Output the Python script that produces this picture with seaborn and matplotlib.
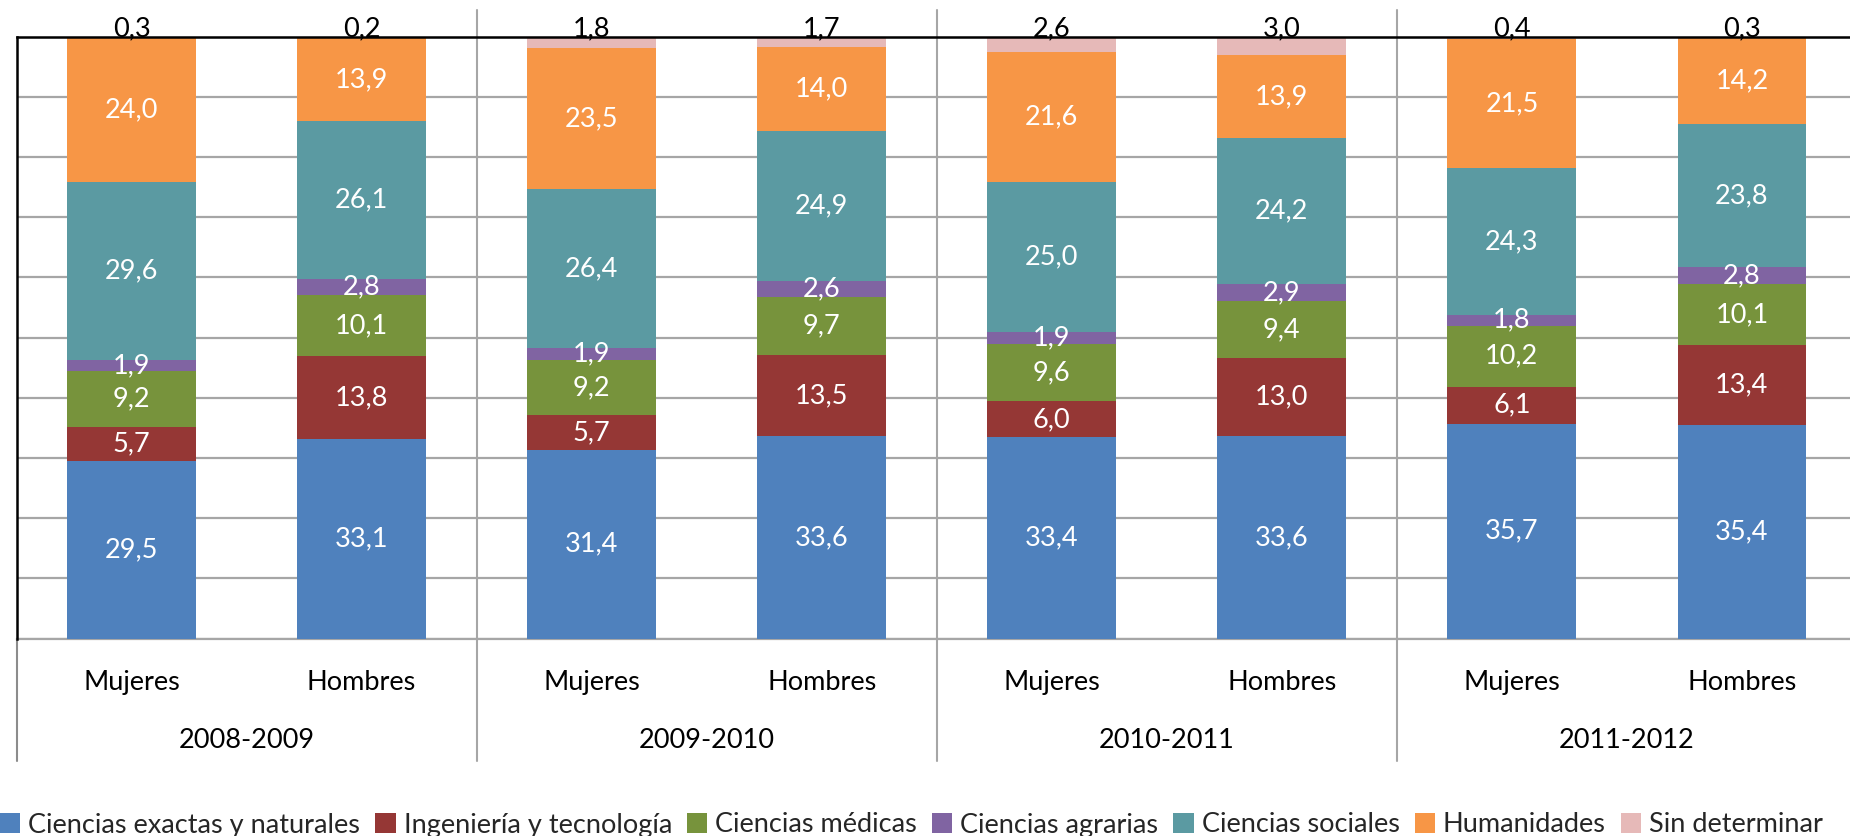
import matplotlib
matplotlib.use("Agg")
import matplotlib.pyplot as plt
import matplotlib.transforms as mtransforms
from matplotlib.patches import Patch
import seaborn as sns
import pandas as pd
import numpy as np

# ---------------- data ----------------
years = ["2008-2009", "2009-2010", "2010-2011", "2011-2012"]
sexes = ["Mujeres", "Hombres"]
fields = ["Ciencias exactas y naturales", "Ingeniería y tecnología", "Ciencias médicas",
          "Ciencias agrarias", "Ciencias sociales", "Humanidades", "Sin determinar"]

exactas    = [29.5, 33.1, 31.4, 33.6, 33.4, 33.6, 35.7, 35.4]
ingenieria = [5.7, 13.8, 5.7, 13.5, 6.0, 13.0, 6.1, 13.4]
medicas    = [9.2, 10.1, 9.2, 9.7, 9.6, 9.4, 10.2, 10.1]
agrarias   = [1.9, 2.8, 1.9, 2.6, 1.9, 2.9, 1.8, 2.8]
sociales   = [29.6, 26.1, 26.4, 24.9, 25.0, 24.2, 24.3, 23.8]
humanidades = [24.0, 13.9, 23.5, 14.0, 21.6, 13.9, 21.5, 14.2]
sin_det    = [0.3, 0.2, 1.8, 1.7, 2.6, 3.0, 0.4, 0.3]

colors = ["#4F81BD", "#953735", "#77933C", "#8064A2", "#5B9AA2", "#F79646", "#E6B9B8"]

series = [exactas, ingenieria, medicas, agrarias, sociales, humanidades, sin_det]
cats = [f"{y}|{s}" for y in years for s in sexes]
df = pd.DataFrame({f: v for f, v in zip(fields, series)}, index=cats)
bottoms = df.cumsum(axis=1).shift(1, axis=1).fillna(0)

font = ["Lato", "DejaVu Sans"]
sns.set_style("white")
plt.rcParams["font.family"] = font

W, H = 1850, 836
fig = plt.figure(figsize=(W / 100, H / 100), dpi=100)
ax_left, ax_right = 16.5 / W, 1857 / W
ax_top, ax_bot = 1 - 36.6 / H, 1 - 638.5 / H
ax = fig.add_axes([ax_left, ax_bot, ax_right - ax_left, ax_top - ax_bot])

fs = 19.5
for i, f in enumerate(fields):
    d = pd.DataFrame({"cat": cats, "val": df[f].values})
    sns.barplot(data=d, x="cat", y="val", order=cats, color=colors[i], width=0.56,
                bottom=bottoms[f].values, ax=ax, saturation=1, linewidth=0, zorder=3)
    cont = ax.containers[-1]
    labels = [f"{v:.1f}".replace(".", ",") for v in df[f].values]
    if f == "Sin determinar":
        for j, v in enumerate(df[f].values):
            ax.text(j, 100.0, labels[j], ha="center", va="baseline", fontsize=fs,
                    color="black", clip_on=False, zorder=6)
    else:
        ax.bar_label(cont, labels=labels, label_type="center", color="white",
                     fontsize=fs, zorder=5)

ax.set_ylim(0, 100)
ax.set_xlim(-0.5, 7.5)
ax.set_yticks(np.arange(0, 101, 10))
ax.set_yticklabels([])
ax.tick_params(axis="y", length=0)
ax.yaxis.grid(True, color="#a6a6a6", linewidth=1.6, zorder=0)
ax.set_axisbelow(True)
ax.set_xlabel("")
ax.set_ylabel("")
ax.set_xticks(range(len(cats)))
ax.set_xticklabels([c.split("|")[1] for c in cats], fontsize=fs, color="black")
ax.tick_params(axis="x", length=0, pad=23)

for s in ["left", "top"]:
    ax.spines[s].set_color("black")
    ax.spines[s].set_linewidth(1.8)
ax.spines["bottom"].set_color("#a6a6a6")
ax.spines["bottom"].set_linewidth(1.6)
ax.spines["right"].set_visible(False)
ax.spines["left"].set_zorder(7)
ax.spines["top"].set_zorder(4)

trans = mtransforms.blended_transform_factory(ax.transData, ax.transAxes)
ax.plot([-0.5, -0.5], [0, -0.2035], transform=trans, color="#8c8c8c", lw=1.5, clip_on=False)
for k in range(1, len(years)):
    x = 2 * k - 0.5
    ax.plot([x, x], [1.044, -0.2035], transform=trans, color="#a6a6a6", lw=1.5,
            clip_on=False, zorder=4)
for k, y in enumerate(years):
    ax.text(2 * k + 0.5, -0.170, y, transform=trans, ha="center", va="center",
            fontsize=fs, color="black")

handles = [Patch(facecolor=c, edgecolor="none") for c in colors]
fig.legend(handles, fields, loc="center left", bbox_to_anchor=(0.0, 1 - 825 / H),
           ncol=7, frameon=False, fontsize=fs, handlelength=0.75, handleheight=0.75,
           handletextpad=0.3, columnspacing=0.55, borderaxespad=0, borderpad=0)

fig.savefig("out.png", dpi=100)
